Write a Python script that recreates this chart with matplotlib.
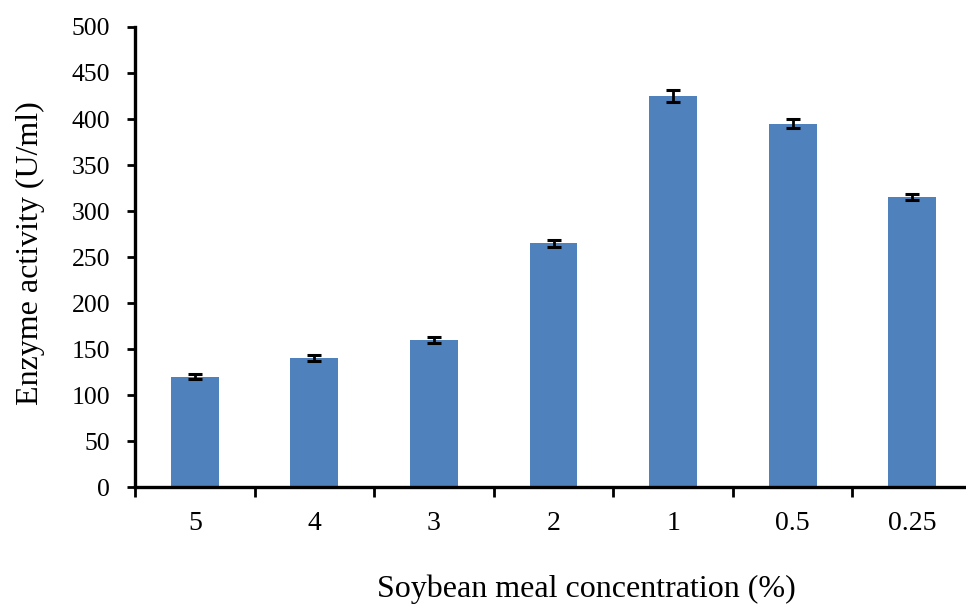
import matplotlib.pyplot as plt

# soybean meal concentration vs enzyme activity
conc = ["5", "4", "3", "2", "1", "0.5", "0.25"]
activity = [120, 140, 160, 265, 425, 395, 315]
err = [3, 3.5, 3, 4, 6.5, 5, 3.5]

plt.rcParams['font.family'] = ['Liberation Serif', 'DejaVu Serif']

fig = plt.figure(figsize=(9.66, 6.04), dpi=100)
ax = fig.add_axes([0.1398, 0.1937, 0.8602, 0.7616])

x = range(len(conc))
ax.bar(x, activity, width=0.4, color="#4F81BD", zorder=2)
ax.errorbar(x, activity, yerr=err, fmt="none", ecolor="black",
            elinewidth=2, capsize=5, capthick=2.2, zorder=3)

ax.set_xlim(-0.5, 6.45)
ax.set_ylim(0, 500)
ax.set_yticks(range(0, 501, 50))
ax.set_xticks(x)
ax.set_xticklabels(conc)
# category boundary ticks like a spreadsheet chart
ax.set_xticks([i - 0.5 for i in range(len(conc))], minor=True)
ax.tick_params(axis="x", which="major", length=0, pad=17, labelsize=20)
ax.tick_params(axis="x", which="minor", length=7, width=2, direction="out")
ax.tick_params(axis="y", length=6, width=2, direction="out", labelsize=18.5, pad=12)

for s in ["top", "right"]:
    ax.spines[s].set_visible(False)
for s in ["left", "bottom"]:
    ax.spines[s].set_linewidth(2.4)

ax.set_xlabel("Soybean meal concentration (%)", fontsize=23)
ax.set_ylabel("Enzyme activity (U/ml)", fontsize=23)
ax.xaxis.set_label_coords(0.543, -0.19)
ax.yaxis.set_label_coords(-0.108, 0.509)

fig.savefig("out.png", dpi=100)
